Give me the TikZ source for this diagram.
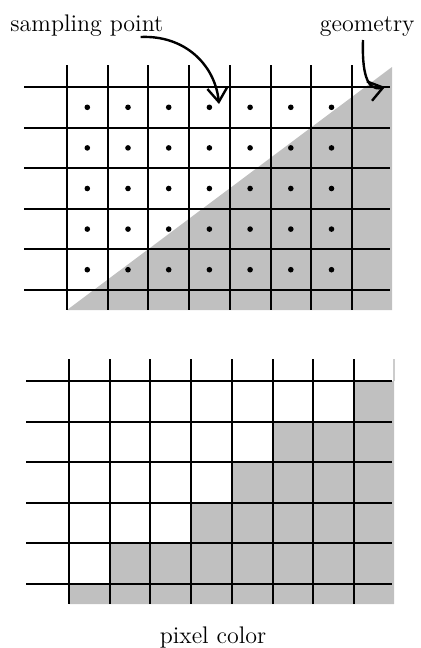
\documentclass[tikz,border=0pt]{standalone}
\usepackage{tikz}
\usetikzlibrary{arrows.meta, positioning, calc}
\usepackage{xcolor}
\definecolor{geomgray}{RGB}{192,192,192}

\begin{document}
\begin{tikzpicture}[x=0.5pt, y=-0.5pt, every node/.style={font=\fontsize{12}{14}\selectfont, inner sep=0pt}, gridline/.style={line width=1pt}, >={Straight Barb[length=7pt, width=10pt]}]
\useasboundingbox (0,0) rectangle (420,648);
% top: geometry and sampling points
\fill[geomgray] (67,310) -- (392,67) -- (392,310) -- cycle;
\foreach \i in {0,...,7} \draw[gridline] ({67+40.7*\i},65) -- ({67+40.7*\i},310);
\foreach \j in {0,...,5} \draw[gridline] (24,{87+40.6*\j}) -- (390,{87+40.6*\j});
\foreach \i in {0,...,6} \foreach \j in {0,...,4} \fill ({87.3+40.7*\i},{107.3+40.6*\j}) circle[radius=1.4pt];
\node[anchor=base west] (sp) at (10,32) {sampling point};
\node[anchor=base east] (geo) at (415,32) {geometry};
\coordinate (sptail) at ([xshift=-11.5pt, yshift=-2.5pt]sp.base east);
\coordinate (geotail) at ([xshift=-26pt, yshift=-4pt]geo.base east);
\coordinate (sptip) at (219,104);
\coordinate (geotip) at (385,87);
\draw[->, line width=1.2pt] (sptail) .. controls (185,35) and (215,65) .. (sptip);
\draw[->, line width=1.2pt] (geotail) .. controls (362,70) and (366,92) .. (geotip);
% bottom: resulting pixel colors
\begin{scope}[shift={(2,294)}]
\fill[geomgray] (352,87) -- (392,87) -- (392,310) -- (67,310) -- (67,290) -- (107.7,290) -- (107.7,249.4) -- (189,249.4) -- (189,208.8) -- (229.8,208.8) -- (229.8,168) -- (270.5,168) -- (270.5,127.6) -- (352,127.6) -- cycle;
\draw[gray!40, line width=0.6pt] (392,65) -- (392,87);
\foreach \i in {0,...,7} \draw[gridline] ({67+40.7*\i},65) -- ({67+40.7*\i},310);
\foreach \j in {0,...,5} \draw[gridline] (24,{87+40.6*\j}) -- (390,{87+40.6*\j});
\end{scope}
\node[anchor=base] (pc) at (213,643) {pixel color};
\end{tikzpicture}
\end{document}
